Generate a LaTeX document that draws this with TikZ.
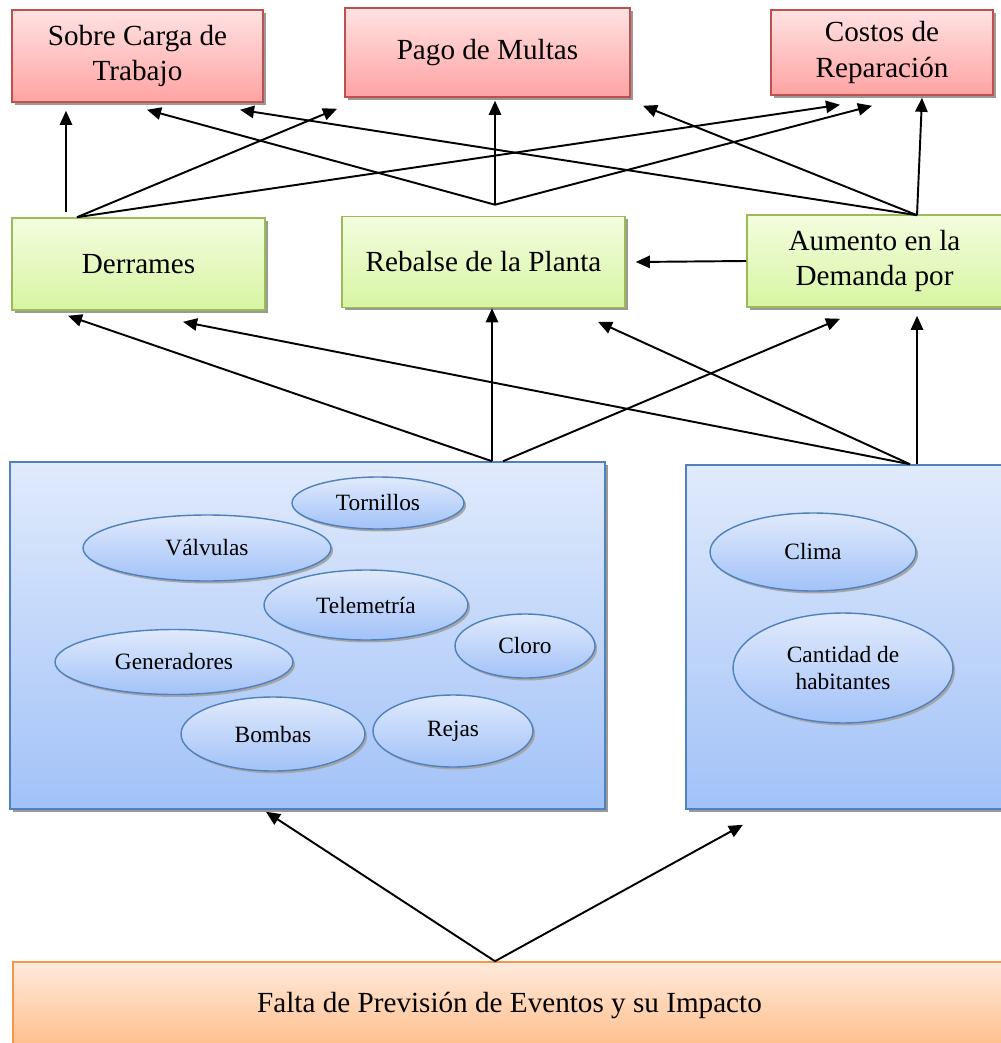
\documentclass[tikz,border=0pt]{standalone}
\usepackage{fontspec}
\setmainfont{Liberation Serif}
\usetikzlibrary{arrows.meta,shadows,shapes.geometric,calc}

\definecolor{rojoA}{HTML}{FFE2E2}
\definecolor{rojoC}{HTML}{FFA3A3}
\definecolor{rojoB}{HTML}{C0504D}
\definecolor{verdeA}{HTML}{F3FDDF}
\definecolor{verdeC}{HTML}{D7F5A2}
\definecolor{verdeB}{HTML}{9BBB59}
\definecolor{azulA}{HTML}{E0EAFC}
\definecolor{azulC}{HTML}{A2C2F8}
\definecolor{azulB}{HTML}{4F81BD}
\definecolor{naranjaA}{HTML}{FFEADC}
\definecolor{naranjaC}{HTML}{FFBE8A}
\definecolor{naranjaB}{HTML}{F79646}

\tikzset{
	sombra/.style={drop shadow={shadow xshift=1.7pt,shadow yshift=-1.7pt,fill=black!40,opacity=1}},
	caja/.style={rectangle,line width=0.9pt,align=center,inner sep=0pt,sombra,
		font=\fontsize{16.6}{20.4}\selectfont},
	efecto/.style={caja,draw=rojoB,top color=rojoA,bottom color=rojoC},
	medio/.style={caja,draw=verdeB,top color=verdeA,bottom color=verdeC},
	grupo/.style={caja,draw=azulB,top color=azulA,bottom color=azulC},
	raiz/.style={caja,draw=naranjaB,top color=naranjaA,bottom color=naranjaC},
	burbuja/.style={ellipse,draw=azulB,line width=0.8pt,inner sep=0pt,align=center,
		drop shadow={shadow xshift=1.2pt,shadow yshift=-1.4pt,fill=black!35,opacity=1},
		top color=azulA,bottom color=azulC,
		font=\fontsize{13.3}{15.9}\selectfont},
	flecha/.style={-{Triangle[length=8pt,width=7pt]},line width=1.1pt}
}

\begin{document}
\begin{tikzpicture}[x=0.02cm,y=-0.02cm]
			\useasboundingbox (0,0) rectangle (1000,1043);
			
			\node[efecto,minimum width=5.02cm,minimum height=1.84cm] (sobre) at (137.5,56) {Sobre Carga de\\Trabajo};
			\node[efecto,minimum width=5.7cm,minimum height=1.78cm] (pago) at (487.5,52.5) {Pago de Multas};
			\node[efecto,minimum width=4.44cm,minimum height=1.7cm] (costos) at (882,52.5) {Costos de\\Reparación};
			
			\node[medio,minimum width=5.06cm,minimum height=1.84cm] (derrames) at (138.5,264) {Derrames};
			\node[medio,minimum width=5.66cm,minimum height=1.82cm] (rebalse) at (483.5,262) {Rebalse de la Planta};
			\node[medio,minimum width=5.1cm,minimum height=1.84cm] (aumento) at (874.5,261) {Aumento en la\\Demanda por};
			
			\node[grupo,minimum width=11.9cm,minimum height=6.94cm] (equipos) at (307.5,635.5) {};
			\node[grupo,minimum width=6.38cm,minimum height=6.88cm] (entorno) at (845.5,637) {};
			\node[raiz,minimum width=19.86cm,minimum height=1.72cm] (falta) at (509.5,1005) {Falta de Previsión de Eventos y su Impacto};
			
			\node[burbuja,minimum width=3.44cm,minimum height=1.04cm] (tornillos) at (378,503) {Tornillos};
			\node[burbuja,minimum width=4.96cm,minimum height=1.32cm] (valvulas) at (207,548) {Válvulas};
			\node[burbuja,minimum width=4.08cm,minimum height=1.4cm] (telemetria) at (366,605) {Telemetría};
			\node[burbuja,minimum width=2.8cm,minimum height=1.28cm] (cloro) at (525,646) {Cloro};
			\node[burbuja,minimum width=4.76cm,minimum height=1.3cm] (generadores) at (174,662) {Generadores};
			\node[burbuja,minimum width=3.68cm,minimum height=1.48cm] (bombas) at (273,734) {Bombas};
			\node[burbuja,minimum width=3.2cm,minimum height=1.44cm] (rejas) at (453,731) {Rejas};
			\node[burbuja,minimum width=4.12cm,minimum height=1.56cm] (clima) at (813,552) {Clima};
			\node[burbuja,minimum width=4.4cm,minimum height=2.2cm] (habitantes) at (843,668) {Cantidad de\\habitantes};
			
			\coordinate (d0) at ([shift={(-72.5,-5)}]derrames.north);
			\coordinate (d1) at ([shift={(-61.5,0)}]derrames.north);
			\coordinate (r0) at ([shift={(11.5,-11)}]rebalse.north);
			\coordinate (a0) at ([shift={(42.5,1)}]aumento.north);
			\coordinate (e0) at ([shift={(184.5,0)}]equipos.north);
			\coordinate (e1) at ([shift={(195.5,0)}]equipos.north);
			\coordinate (n0) at ([shift={(64.5,0)}]entorno.north);
			\coordinate (n1) at ([shift={(71.5,0)}]entorno.north);
			\coordinate (f0) at ([shift={(-14.5,0)}]falta.north);
			
			\draw[flecha] (d0) -- ([shift={(-71.5,8)}]sobre.south);
			\draw[flecha] (d1) -- ([shift={(-150.5,11)}]pago.south);
			\draw[flecha] (d1) -- ([shift={(-42,9)}]costos.south);
			\draw[flecha] (r0) -- ([shift={(9.5,7)}]sobre.south);
			\draw[flecha] (r0) -- ([shift={(7.5,3)}]pago.south);
			\draw[flecha] (r0) -- ([shift={(-10,10)}]costos.south);
			\draw[flecha] (a0) -- ([shift={(102.5,7)}]sobre.south);
			\draw[flecha] (a0) -- ([shift={(155.5,8)}]pago.south);
			\draw[flecha] (a0) -- ([shift={(40,2)}]costos.south);
			\draw[flecha] (aumento.west) -- ([xshift=0.2cm]rebalse.east);
			
			\draw[flecha] (e0) -- ([shift={(-70.5,5)}]derrames.south);
			\draw[flecha] (e0) -- ([shift={(8.5,0)}]rebalse.south);
			\draw[flecha] (e1) -- ([shift={(-34.5,11)}]aumento.south);
			\draw[flecha] (n0) -- ([shift={(44.5,11)}]derrames.south);
			\draw[flecha] (n0) -- ([shift={(114.5,13.5)}]rebalse.south);
			\draw[flecha] (n1) -- ([shift={(42.5,8)}]aumento.south);
			
			\draw[flecha] (f0) -- ([shift={(-41.5,2)}]equipos.south);
			\draw[flecha] (f0) -- ([shift={(-102.5,15)}]entorno.south);
\end{tikzpicture}
\end{document}
